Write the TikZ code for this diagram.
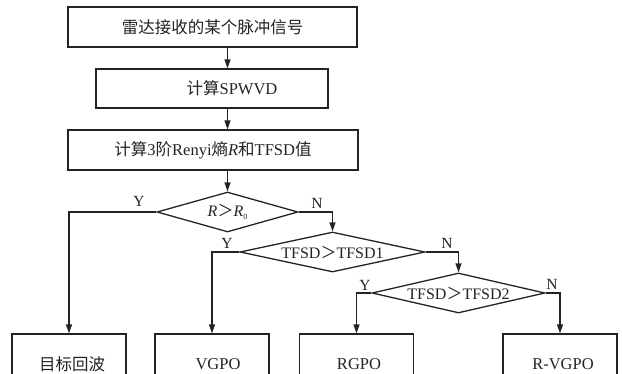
\documentclass[tikz,border=0pt]{standalone}
\usepackage{fontspec}
\setmainfont{Liberation Serif}
\newfontfamily\cjk{Noto Sans CJK SC}
\usetikzlibrary{shapes.geometric, arrows.meta, positioning}
\definecolor{ink}{RGB}{35,35,35}
\newcommand{\zh}[1]{{\cjk #1}}
\tikzset{
	procbox/.style={draw, rectangle, inner sep=0pt, minimum height=40pt, font=\fontsize{16.5}{18}\selectfont}
}
\tikzset{
	decbox/.style={draw, diamond, inner sep=0pt, minimum height=40pt, font=\fontsize{16}{17}\selectfont}
}
\tikzset{
	endbox/.style={draw, rectangle, inner sep=0pt, minimum width=114pt, minimum height=60pt, font=\fontsize{16.5}{18}\selectfont}
}
\tikzset{
	yntext/.style={inner sep=0pt, font=\fontsize{15.5}{17}\selectfont}
}
\tikzset{
	flow/.style={-{Triangle[length=9pt,width=6pt]}}
}

\begin{document}
\begin{tikzpicture}[x=1pt, y=-1pt, line width=1.3pt, draw=ink, text=ink]
      \useasboundingbox (0,0) rectangle (622,373);
      \clip (0,0) rectangle (622,373);
      % processing steps
      \node[procbox, minimum width=289pt] (sig) at (212.5,27) {\zh{雷达接收的某个脉冲信号}};
      \node[procbox, minimum width=232pt, minimum height=39pt] (spwvd) at (212,88.5) {\hspace*{40pt}\zh{计算}SPWVD};
      \node[procbox, minimum width=290pt] (renyi) at (213,150) {\zh{计算}3\zh{阶}Renyi\zh{熵}\textit{R}\zh{和}TFSD\zh{值}};
      % decisions
      \node[decbox, minimum width=141pt] (dec1) at (227.5,212) {\makebox[0pt]{\textit{R}\zh{＞}\textit{R}\raisebox{-2.5pt}{\fontsize{8}{8}\selectfont 0}}};
      \node[decbox, minimum width=185pt] (dec2) at (332.5,252) {\makebox[0pt]{TFSD\zh{＞}TFSD1}};
      \node[decbox, minimum width=173pt] (dec3) at (458.5,293) {\makebox[0pt]{TFSD\zh{＞}TFSD2}};
      % results
      \node[endbox] (echo) at (69,364) {\hspace*{6pt}\zh{目标回波}};
      \node[endbox] (vgpo) at (212,364) {\hspace*{12pt}VGPO};
      \node[endbox] (rgpo) at (356.5,364) {\hspace*{5pt}RGPO};
      \node[endbox] (rvgpo) at (560,364) {\hspace*{6pt}R-VGPO};
      % branch labels
      \node[yntext] (y1) at (139,201) {Y};
      \node[yntext] (n1) at (317,203) {N};
      \node[yntext] (y2) at (227,243) {Y};
      \node[yntext] (n2) at (447,243) {N};
      \node[yntext] (y3) at (365,285) {Y};
      \node[yntext] (n3) at (552,284) {N};
      % connectors
      \draw[flow] (sig.south -| dec1.north) -- (spwvd.north -| dec1.north);
      \draw[flow] (spwvd.south -| dec1.north) -- (renyi.north -| dec1.north);
      \draw[flow] (renyi.south -| dec1.north) -- (dec1.north);
      \draw[flow] (dec1.west) -| (echo.north);
      \draw[flow] (dec1.east) -| (dec2.north);
      \draw[flow] (dec2.west) -| (vgpo.north);
      \draw[flow] (dec2.east) -| (dec3.north);
      \draw[flow] (dec3.west) -| (rgpo.north);
      \draw[flow] (dec3.east) -| (rvgpo.north);
    \end{tikzpicture}
\end{document}
